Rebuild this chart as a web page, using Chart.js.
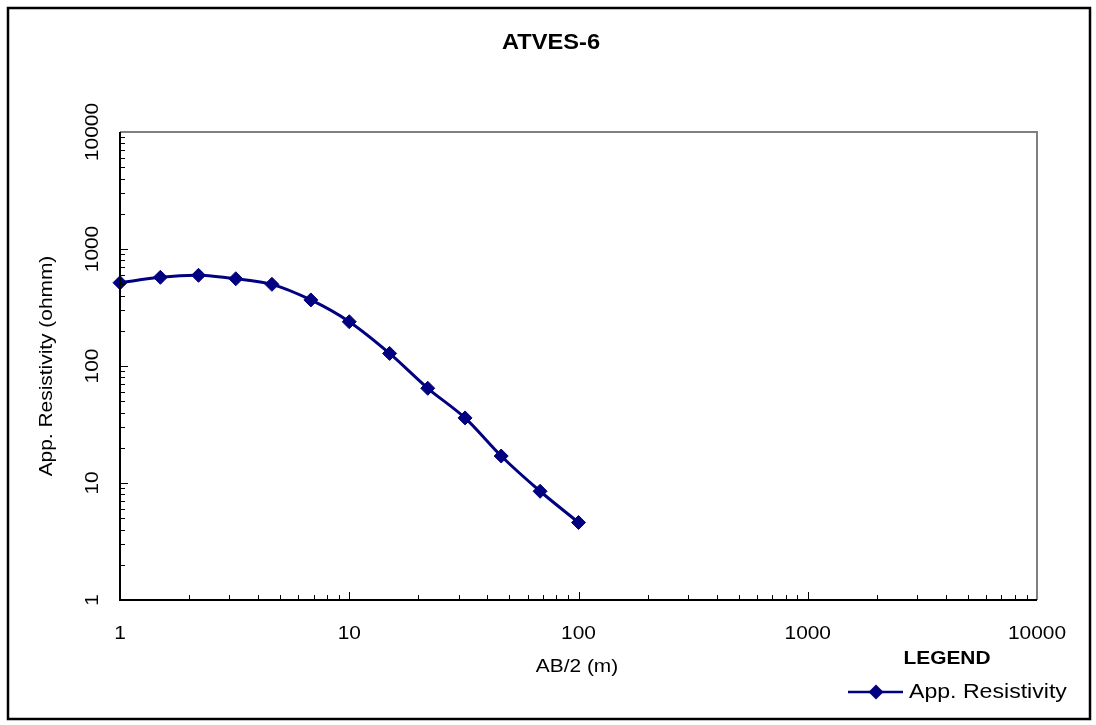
<!DOCTYPE html>
<html>
<head>
<meta charset="utf-8">
<script src="https://cdn.jsdelivr.net/npm/chart.js@4.4.1/dist/chart.umd.min.js"></script>
<style>
  body { margin: 0; background: #fff; }
  canvas { display: block; }
</style>
</head>
<body>
<canvas id="ves-chart" width="1096" height="725"></canvas>
<script>
// AB/2 spacings (m) and apparent resistivity (ohm.m)
const spacings = [1, 1.5, 2.2, 3.2, 4.6, 6.8, 10, 15, 22, 32, 46, 68, 100];
const resistivity = [515, 573, 596, 557, 499, 367, 239, 128, 64.5, 36, 17, 8.5, 4.6];
const xTickLabels = [1, 10, 100, 1000, 10000];
const yTickLabels = [1, 10, 100, 1000, 10000];

const NAVY = '#000080';
const FONT = 'Arial, "Liberation Sans", sans-serif';

// Excel-ish text is a bit wider than Arial, so stretch horizontally
function stretchText(ctx, text, x, y, font, align, sx) {
  ctx.save();
  ctx.font = font;
  ctx.fillStyle = '#000';
  ctx.textBaseline = 'middle';
  ctx.textAlign = align;
  ctx.translate(x, y);
  ctx.scale(sx, 1);
  ctx.fillText(text, 0, 0);
  ctx.restore();
}

const framePlugin = {
  id: 'frame',
  afterDraw(chart) {
    const { ctx, chartArea } = chart;
    const xs = chart.scales.x;
    const ys = chart.scales.y;
    const { left, right, top, bottom } = chartArea;

    ctx.save();
    // outer border
    ctx.strokeStyle = '#000';
    ctx.lineWidth = 2.5;
    ctx.strokeRect(8, 8, 1082, 711);

    // plot area: grey top/right, black left/bottom
    ctx.lineWidth = 2;
    ctx.strokeStyle = '#808080';
    ctx.beginPath();
    ctx.moveTo(left, top);
    ctx.lineTo(right, top);
    ctx.lineTo(right, bottom);
    ctx.stroke();

    ctx.strokeStyle = '#000';
    ctx.beginPath();
    ctx.moveTo(left, top);
    ctx.lineTo(left, bottom);
    ctx.lineTo(right, bottom);
    ctx.stroke();

    // inside tick marks on both log axes
    ctx.lineWidth = 1;
    ctx.beginPath();
    for (let d = 0; d < 4; d++) {
      for (let k = 1; k <= 9; k++) {
        const v = k * Math.pow(10, d);
        const len = k === 1 ? 8 : 5;
        const px = Math.round(xs.getPixelForValue(v)) + 0.5;
        ctx.moveTo(px, bottom);
        ctx.lineTo(px, bottom - len);
        const py = Math.round(ys.getPixelForValue(v)) + 0.5;
        ctx.moveTo(left, py);
        ctx.lineTo(left + len, py);
      }
    }
    ctx.stroke();
    ctx.restore();

    // tick labels
    const tickFont = '19px ' + FONT;
    xTickLabels.forEach(v => {
      stretchText(ctx, String(v), xs.getPixelForValue(v), 634, tickFont, 'center', 1.1);
    });
    yTickLabels.forEach(v => {
      ctx.save();
      ctx.translate(93, ys.getPixelForValue(v));
      ctx.rotate(-Math.PI / 2);
      ctx.scale(1.1, 1);
      ctx.font = tickFont;
      ctx.fillStyle = '#000';
      ctx.textAlign = 'center';
      ctx.textBaseline = 'middle';
      ctx.fillText(String(v), 0, 0);
      ctx.restore();
    });

    // titles
    stretchText(ctx, 'ATVES-6', 551, 43, 'bold 21.5px ' + FONT, 'center', 1.1);
    stretchText(ctx, 'AB/2 (m)', 577, 667, '19px ' + FONT, 'center', 1.1);

    ctx.save();
    ctx.translate(47, (top + bottom) / 2);
    ctx.rotate(-Math.PI / 2);
    ctx.scale(1.1, 1);
    ctx.font = '19px ' + FONT;
    ctx.fillStyle = '#000';
    ctx.textAlign = 'center';
    ctx.textBaseline = 'middle';
    ctx.fillText('App. Resistivity (ohmm)', 0, 0);
    ctx.restore();

    // legend
    stretchText(ctx, 'LEGEND', 947, 659, 'bold 19px ' + FONT, 'center', 1.1);
    ctx.save();
    ctx.strokeStyle = NAVY;
    ctx.lineWidth = 2.5;
    ctx.beginPath();
    ctx.moveTo(848, 692);
    ctx.lineTo(903, 692);
    ctx.stroke();
    ctx.fillStyle = NAVY;
    ctx.beginPath();
    ctx.moveTo(876 - 7.5, 692);
    ctx.lineTo(876, 692 - 7.5);
    ctx.lineTo(876 + 7.5, 692);
    ctx.lineTo(876, 692 + 7.5);
    ctx.closePath();
    ctx.fill();
    ctx.restore();
    stretchText(ctx, 'App. Resistivity', 909, 692, '21px ' + FONT, 'left', 1.1);
  }
};

new Chart(document.getElementById('ves-chart').getContext('2d'), {
  type: 'line',
  data: {
    datasets: [{
      label: 'App. Resistivity',
      data: spacings.map((x, i) => ({ x: x, y: resistivity[i] })),
      borderColor: NAVY,
      backgroundColor: NAVY,
      borderWidth: 3,
      tension: 0.3,
      pointStyle: 'rectRot',
      pointRadius: 7,
      pointBorderWidth: 1,
      pointBackgroundColor: NAVY,
      pointBorderColor: NAVY,
      clip: false
    }]
  },
  options: {
    responsive: false,
    animation: false,
    events: [],
    layout: {
      padding: { left: 120, top: 132, right: 59, bottom: 125 }
    },
    plugins: {
      legend: { display: false },
      title: { display: false },
      tooltip: { enabled: false }
    },
    scales: {
      x: { type: 'logarithmic', min: 1, max: 10000, display: false },
      y: { type: 'logarithmic', min: 1, max: 10000, display: false }
    }
  },
  plugins: [framePlugin]
});
</script>
</body>
</html>
